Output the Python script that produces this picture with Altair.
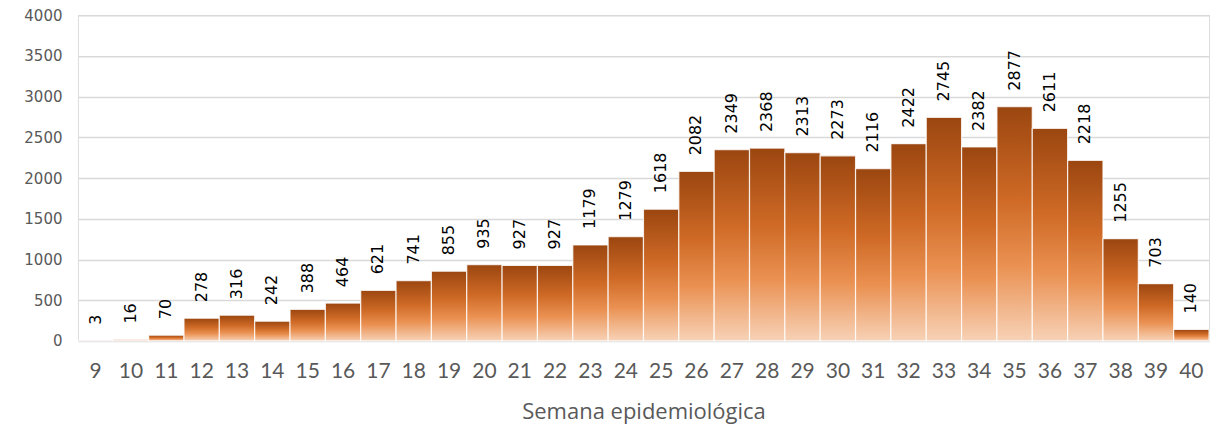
import altair as alt
import pandas as pd

weeks = list(range(9, 41))
cases = [3, 16, 70, 278, 316, 242, 388, 464, 621, 741, 855, 935, 927, 927,
         1179, 1279, 1618, 2082, 2349, 2368, 2313, 2273, 2116, 2422, 2745,
         2382, 2877, 2611, 2218, 1255, 703, 140]

df = pd.DataFrame({"semana": weeks, "casos": cases})

FONT = "Lato"
grad = alt.Gradient(
    gradient="linear",
    stops=[
        alt.GradientStop(color="#9b4610", offset=0),
        alt.GradientStop(color="#cf6a26", offset=0.4),
        alt.GradientStop(color="#ea9152", offset=0.68),
        alt.GradientStop(color="#f7d2b7", offset=1),
    ],
    x1=0, x2=0, y1=0, y2=1,
)

x = alt.X(
    "semana:O",
    title="Semana epidemiológica",
    scale=alt.Scale(paddingInner=0, paddingOuter=0),
    axis=alt.Axis(labelAngle=0, labelFontSize=21, labelColor="#595959",
                  labelFont=FONT, domain=False, ticks=False, labelPadding=20,
                  titleFont="Open Sans", titleFontSize=22, titleColor="#595959",
                  titleFontWeight="normal", titlePadding=20),
)
y = alt.Y(
    "casos:Q",
    title=None,
    scale=alt.Scale(domain=[0, 4000], nice=False),
    axis=alt.Axis(values=list(range(0, 4001, 500)), format="d",
                  labelFontSize=15, labelColor="#595959",
                  labelFont="DejaVu Sans", domain=False,
                  ticks=False, labelPadding=16, gridColor="#d9d9d9",
                  gridWidth=1.5, minExtent=60, maxExtent=60),
)

bars = alt.Chart(df).mark_bar(color=grad, stroke="white", strokeWidth=1.2,
                              strokeOpacity=0.8).encode(x=x, y=y)
labels = alt.Chart(df).mark_text(angle=270, align="left", baseline="middle",
                                 dx=16, fontSize=16, font="DejaVu Sans",
                                 color="black").encode(
    x=alt.X("semana:O"), y=alt.Y("casos:Q"), text=alt.Text("casos:Q"))

chart = (bars + labels).properties(
    width=1132, height=326,
    padding={"left": 10, "top": 0, "right": 11, "bottom": 5},
).configure_view(stroke=None).configure(background="white")

chart.save("out.html", embed_options={"renderer": "svg", "actions": False})
